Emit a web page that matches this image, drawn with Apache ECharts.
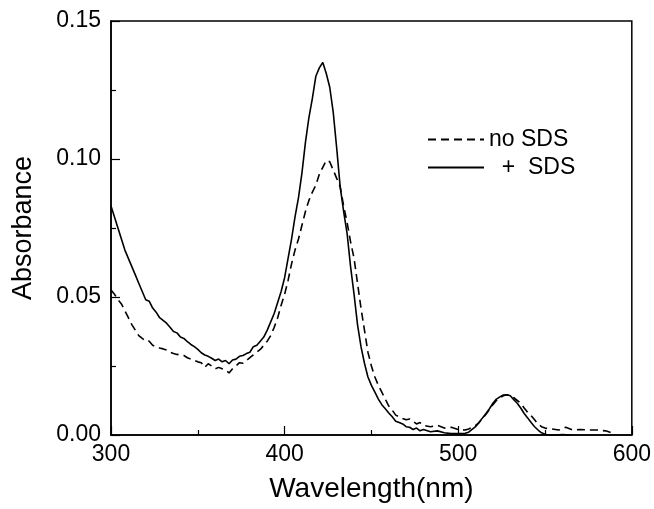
<!DOCTYPE html>
<html>
<head>
<meta charset="utf-8">
<script src="https://cdn.jsdelivr.net/npm/echarts@6/dist/echarts.min.js"></script>
<style>
  html, body { margin: 0; padding: 0; background: #fff; }
  #chart { width: 654px; height: 509px; }
</style>
</head>
<body>
<div id="chart"></div>
<script>
// + SDS (solid)
var sdsX = [300,302,304,306,308,310,312,314,316,318,320,322,324,326,328,330,332,334,336,338,
  340,342,344,346,348,350,352,354,356,358,360,362,364,366,368,370,372,374,376,378,
  380,382,384,386,388,390,392,394,396,398,400,402,404,406,408,410,412,414,416,418,
  420,422,424,426,428,430,432,434,436,438,440,442,444,446,448,450,452,454,456,458,
  460,462,464,466,468,470,472,474,476,478,480,484,488,492,496,500,504,506,508,510,
  512,514,516,518,520,522,524,526,528,530,532,534,536,538,540,542,544,546,548,550,
  552,556,560,565];
var sdsY = [0.083,0.079,0.075,0.071,0.067,0.064,0.061,0.058,0.055,0.052,0.049,0.0485,0.046,0.0445,0.0425,0.0415,0.0405,0.039,0.0375,0.037,
  0.0355,0.035,0.0338,0.0328,0.032,0.031,0.0298,0.029,0.0285,0.0278,0.027,0.0275,0.0265,0.027,0.0258,0.0272,0.0275,0.0285,0.0288,0.0295,
  0.030,0.032,0.0325,0.034,0.0355,0.038,0.041,0.044,0.048,0.052,0.057,0.064,0.071,0.079,0.086,0.095,0.106,0.115,0.122,0.130,
  0.133,0.135,0.131,0.126,0.117,0.104,0.090,0.081,0.073,0.061,0.051,0.040,0.032,0.026,0.021,0.018,0.0155,0.013,0.011,0.0095,
  0.008,0.0066,0.005,0.0045,0.004,0.003,0.0028,0.002,0.0025,0.0015,0.002,0.0012,0.0015,0.0008,0.0005,0.0005,0.0006,0.001,0.002,0.003,
  0.0045,0.0062,0.0078,0.0095,0.0115,0.013,0.0138,0.0145,0.0146,0.0142,0.0128,0.0115,0.0098,0.0078,0.0062,0.0045,0.003,0.0018,0.0008,0.0003,
  0.0,0.0,0.0002,0.0];

// no SDS (dashed)
var noX = [300,302,304,306,308,310,312,314,316,318,320,322,324,326,328,330,332,334,336,338,
  340,342,344,346,348,350,352,354,356,358,360,362,364,366,368,370,372,374,376,378,
  380,382,384,386,388,390,392,394,396,398,400,402,404,406,408,410,412,414,416,418,
  420,422,424,426,428,430,432,434,436,438,440,442,444,446,448,450,452,454,456,458,
  460,462,464,466,468,470,472,474,476,478,480,484,488,492,496,500,504,506,508,510,
  512,514,516,518,520,522,524,526,528,530,532,534,536,538,540,542,544,546,548,550,
  554,558,562,566,570,575,580,585,590];
var noY = [0.0525,0.051,0.049,0.0475,0.045,0.0425,0.040,0.038,0.036,0.035,0.034,0.034,0.0325,0.032,0.0315,0.0312,0.0308,0.030,0.0295,0.0292,
  0.029,0.0288,0.028,0.0275,0.027,0.0265,0.0262,0.0245,0.0258,0.025,0.024,0.0245,0.024,0.0235,0.0225,0.024,0.025,0.0262,0.026,0.027,
  0.028,0.029,0.030,0.031,0.0325,0.034,0.036,0.039,0.0425,0.047,0.051,0.056,0.062,0.067,0.071,0.076,0.081,0.085,0.088,0.0905,
  0.0945,0.097,0.0995,0.099,0.096,0.093,0.090,0.083,0.077,0.070,0.064,0.055,0.046,0.038,0.030,0.025,0.021,0.018,0.0155,0.013,
  0.0105,0.009,0.0072,0.0066,0.006,0.0055,0.0058,0.005,0.004,0.0045,0.0035,0.003,0.0035,0.0025,0.0028,0.002,0.0018,0.0022,0.0028,0.0035,
  0.0045,0.006,0.0075,0.0092,0.011,0.0125,0.0135,0.0142,0.0146,0.0142,0.0135,0.0125,0.0115,0.0098,0.0082,0.007,0.0055,0.004,0.003,0.0025,
  0.0022,0.0018,0.0028,0.0018,0.002,0.0018,0.0018,0.0015,0.0005];

var seriesNames = ['no SDS', '  +  SDS'];

function pairs(xs, ys) {
    return xs.map(function (x, i) { return [x, ys[i]]; });
}

var chart = echarts.init(document.getElementById('chart'));
var font = 'Liberation Sans, Arial, sans-serif';

var option = {
    animation: false,
    backgroundColor: '#fff',
    grid: {
        left: 111, right: 20, top: 21, bottom: 74,
        show: true, borderColor: '#000', borderWidth: 1.5
    },
    legend: {
        data: seriesNames,
        orient: 'vertical',
        left: 422, top: 123,
        itemWidth: 56, itemHeight: 14, itemGap: 5,
        itemStyle: { opacity: 0 },
        textStyle: { fontFamily: font, fontSize: 23, color: '#000' }
    },
    xAxis: {
        type: 'value',
        min: 300, max: 600, interval: 100,
        name: 'Wavelength(nm)',
        nameLocation: 'middle', nameGap: 40,
        nameTextStyle: { fontFamily: font, fontSize: 28, color: '#000' },
        axisLine: { onZero: false, lineStyle: { color: '#000', width: 1.5 } },
        axisTick: { inside: true, length: 9, lineStyle: { color: '#000', width: 1.2 } },
        minorTick: { show: true, splitNumber: 2, length: 5, lineStyle: { color: '#000', width: 1.2 } },
        axisLabel: { fontFamily: font, fontSize: 23, color: '#000', margin: 8 },
        splitLine: { show: false }
    },
    yAxis: {
        type: 'value',
        min: 0, max: 0.15, interval: 0.05,
        name: 'Absorbance',
        nameLocation: 'middle', nameGap: 74,
        nameTextStyle: { fontFamily: font, fontSize: 27, color: '#000' },
        axisLine: { show: true, lineStyle: { color: '#000', width: 1.5 } },
        axisTick: { inside: true, length: 9, lineStyle: { color: '#000', width: 1.2 } },
        minorTick: { show: true, splitNumber: 2, length: 5, lineStyle: { color: '#000', width: 1.2 } },
        axisLabel: {
            fontFamily: font, fontSize: 23, color: '#000', margin: 10,
            formatter: function (v) { return v.toFixed(2); }
        },
        splitLine: { show: false }
    },
    series: [
        {
            name: seriesNames[0],
            type: 'line',
            data: pairs(noX, noY),
            showSymbol: false, symbol: 'none',
            color: '#000',
            lineStyle: { color: '#000', width: 1.6, type: [8, 5] }
        },
        {
            name: seriesNames[1],
            type: 'line',
            data: pairs(sdsX, sdsY),
            showSymbol: false, symbol: 'none',
            color: '#000',
            lineStyle: { color: '#000', width: 1.6 }
        }
    ]
};

chart.setOption(option);
</script>
</body>
</html>
